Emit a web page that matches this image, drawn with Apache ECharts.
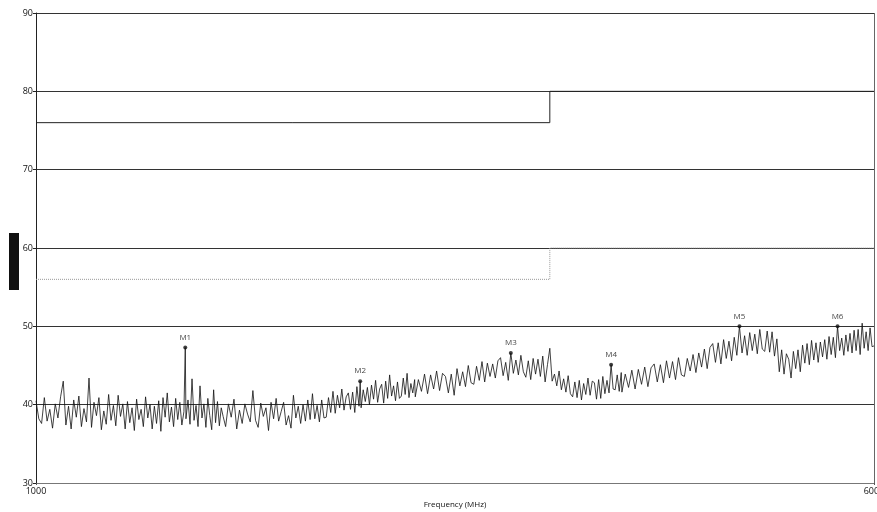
<!DOCTYPE html>
<html><head><meta charset="utf-8">
<script src="https://cdn.jsdelivr.net/npm/echarts@6/dist/echarts.min.js"></script>
<style>html,body{margin:0;padding:0;background:#fff}#c{width:877px;height:512px}</style>
</head><body><div id="c"></div>
<script>
const freqs = [
1000,1006,1012,1018,1024,1030,1036,1042,1048,1054,
1060,1066,1072,1078,1084,1090,1096,1102,1108,1114,
1120,1126,1132,1138,1144,1150,1156,1162,1168,1174,
1180,1186,1192,1198,1204,1210,1216,1222,1228,1234,
1240,1246,1252,1258,1264,1270,1276,1282,1288,1294,
1300,1306,1312,1318,1324,1330,1336,1342,1348,1354,
1360,1366,1372,1376,
1378,1384,1390,1396,1402,1408,1414,1420,1426,1432,
1438,1444,1450,1456,1462,1468,1474,1480,1486,1492,
1500,1509,1518,1527,1536,1545,1554,1563,1572,1581,
1590,1599,1608,1617,1626,1635,1644,1653,1662,1671,
1680,1689,1698,1707,1716,1725,1734,1743,1752,1761,
1770,1779,1788,1797,1806,1815,1824,1833,1842,1851,
1860,1869,1878,1887,1896,1905,1914,1923,1932,1941,
1950,1959,1968,1977,1986,1995,2000,
2004,2013,2022,2031,2040,2049,2058,2067,2076,2085,
2094,2103,2112,2121,2130,2139,2148,2157,2166,2175,
2184,2193,2202,2211,2220,2229,2238,2247,
2250,2265,2280,2295,2310,2325,2340,2355,2370,2385,
2400,2415,2430,2445,2460,2475,2490,2505,2520,2535,
2550,2565,2580,2595,2610,2625,2640,2655,2670,2685,
2700,2715,2730,2745,2760,2775,2790,2805,2820,2835,
2850,2865,2880,2895,2910,2925,2940,2955,2970,2985,
3000,3015,3030,3045,3060,3075,3090,3105,3120,3135,
3150,3165,3180,3195,3210,3225,3240,3255,3270,3285,
3300,3315,3330,3345,3360,3375,3390,3405,3420,3435,
3450,3465,3480,3495,
3500,3525,3550,3575,3600,3625,3650,3675,3700,3725,
3750,3775,3800,3825,3850,3875,3900,3925,3950,3975,
4000,4025,4050,4075,4100,4125,4150,4175,4200,4225,
4250,4275,4300,4325,4350,4375,4400,4425,4450,4475,
4500,4525,4550,4575,4600,4625,4650,4675,4700,4725,
4750,4775,4800,4825,4850,4875,4900,4925,4950,4975,
5000,5025,5050,5075,5100,5125,5150,5175,5200,5225,
5250,5275,5300,5325,5350,5375,5400,5425,5450,5475,
5500,5525,5550,5575,5600,5625,5650,5675,5700,5725,
5750,5775,5800,5825,5850,5875,5900,5925,5950,5975,
6000];
const levels = [
40.5,38.2,37.6,40.9,37.9,39.4,37.0,40.1,38.3,41.0,
43.0,37.4,39.8,36.9,40.6,38.4,41.1,37.2,39.5,37.8,
43.4,37.1,40.3,38.6,40.9,36.8,39.2,37.5,41.3,38.0,
39.9,37.3,41.2,38.5,40.1,36.9,40.4,37.7,39.6,36.7,
40.7,38.1,39.4,37.2,41.0,38.3,40.0,36.9,39.8,37.6,
40.5,36.6,40.9,38.4,41.5,37.8,39.7,37.2,40.8,38.1,
40.3,37.4,39.1,47.3,
38.2,40.6,37.5,43.3,38.0,39.9,37.2,42.4,38.3,40.1,
37.1,40.8,38.6,36.8,41.9,37.7,40.4,37.3,39.6,38.5,
37.2,40.1,38.4,40.7,36.9,39.3,37.6,40.1,38.8,37.8,
41.8,38.0,37.1,40.2,38.5,39.6,36.7,40.3,38.2,40.8,
37.9,39.1,40.3,37.4,38.6,37.0,41.2,38.3,39.8,37.6,
40.0,37.9,40.6,38.1,41.4,38.2,39.9,37.8,40.6,38.3,
38.4,40.9,39.0,41.7,38.9,41.2,39.6,42.0,39.3,41.0,
41.5,39.4,41.6,39.0,42.3,39.8,43.0,
39.6,41.9,40.4,42.2,40.0,42.5,40.7,43.1,40.3,42.0,
42.6,40.2,43.0,40.8,43.8,41.1,42.4,40.5,42.9,40.8,
41.1,43.4,41.3,44.0,40.9,42.7,41.5,43.2,
41.0,43.2,41.7,43.9,41.4,43.8,42.0,44.3,41.8,44.0,
43.6,41.5,43.9,41.2,44.6,42.4,44.2,42.3,45.0,42.8,
42.6,44.9,43.1,45.5,42.9,45.3,43.6,45.2,43.4,45.6,
46.0,43.7,45.4,43.1,46.6,44.0,45.7,43.8,46.3,44.2,
43.5,45.6,43.2,45.9,43.9,45.8,43.6,46.2,42.9,45.1,
47.2,43.0,43.9,42.4,44.3,41.9,43.3,41.6,43.7,41.4,
41.0,42.9,40.9,43.1,40.6,42.7,41.3,43.4,41.2,43.0,
42.8,40.7,43.2,40.8,43.6,41.4,43.1,41.5,45.1,42.0,
41.9,43.8,41.7,44.1,
41.6,43.9,42.2,44.4,42.0,44.5,42.6,44.8,42.3,44.7,
45.2,42.9,45.1,42.8,45.6,43.4,45.5,43.2,46.0,43.8,
43.6,45.9,44.3,46.4,44.1,46.6,44.8,47.1,44.6,47.3,
47.8,45.4,47.9,45.2,48.3,45.9,48.1,45.6,48.6,46.3,
50.0,46.6,48.8,46.3,49.2,46.9,49.0,46.5,49.6,47.1,
46.8,49.4,46.7,49.3,46.2,48.4,44.2,47.0,43.9,46.5,
45.8,43.4,46.8,44.6,47.0,44.2,47.6,45.3,47.8,45.1,
48.2,45.7,47.9,45.4,48.0,46.1,48.3,45.8,48.7,46.4,
48.6,46.0,50.0,46.9,48.5,46.3,48.9,46.8,49.1,46.6,
49.5,46.9,49.6,46.4,50.4,47.2,49.3,46.9,49.8,47.4,
47.5];
// Limit lines
const peakLimitF = [1000, 3000, 3000, 6000];
const peakLimitV = [76, 76, 80, 80];
const avgLimitF = [1000, 3000, 3000, 6000];
const avgLimitV = [56, 56, 60, 60];
// Markers
const markerNames = ['M1','M2','M3','M4','M5','M6'];
const markerF = [1376, 2000, 2760, 3420, 4500, 5550];
const markerV = [47.3, 43.0, 46.6, 45.1, 50.0, 50.0];
// Axis
const yTicks = [30, 40, 50, 60, 70, 80, 90];

const zip = (a, b) => a.map((v, i) => [v, b[i]]);
const chart = echarts.init(document.getElementById('c'));
const font = 'Open Sans, DejaVu Sans, sans-serif';
chart.setOption({
  animation: false,
  backgroundColor: '#fff',
  grid: { left: 36, right: 3, top: 13, bottom: 29, containLabel: false, outerBoundsMode: 'none' },
  xAxis: {
    type: 'log', logBase: 10, min: 1000, max: 6000,
    name: 'Frequency (MHz)', nameLocation: 'middle', nameGap: 17,
    nameTextStyle: { fontSize: 8, color: '#111', fontFamily: font },
    axisLine: { show: true, lineStyle: { color: '#777', width: 1 } },
    axisTick: { show: true, length: 2, lineStyle: { color: '#555' } },
    minorTick: { show: false },
    splitLine: { show: false },
    axisLabel: { fontSize: 9, color: '#111', fontFamily: font, margin: 4, showMinLabel: true, showMaxLabel: true,
      formatter: v => (Math.abs(v - 1000) < 1 || Math.abs(v - 6000) < 1) ? String(Math.round(v)) : '' }
  },
  yAxis: {
    type: 'value', min: yTicks[0], max: yTicks[yTicks.length - 1], interval: 10,
    axisLine: { show: true, lineStyle: { color: '#222', width: 1 } },
    axisTick: { show: true, length: 3, lineStyle: { color: '#222' } },
    splitLine: { show: true, lineStyle: { color: '#333', width: 1 } },
    axisLabel: { fontSize: 9, color: '#111', fontFamily: font, margin: 3 }
  },
  graphic: [{ type: 'rect', left: 9, top: 233, shape: { width: 10, height: 57 }, style: { fill: '#111' } }],
  series: [
    { type: 'line', data: zip(peakLimitF, peakLimitV), symbol: 'none', lineStyle: { color: '#222', width: 1 }, z: 3,
      markLine: { silent: true, symbol: 'none', label: { show: false }, lineStyle: { color: '#666', type: 'solid', width: 1 }, data: [{ xAxis: 6000 }] } },
    { type: 'line', data: zip(avgLimitF, avgLimitV), symbol: 'none', lineStyle: { color: '#999', width: 1, type: 'dotted' }, z: 3 },
    { type: 'line', data: zip(freqs, levels), symbol: 'none', lineStyle: { color: '#111', width: 0.8 }, z: 4 },
    { type: 'scatter', data: zip(markerF, markerV).map((d, i) => ({ value: d, name: markerNames[i] })),
      symbol: 'circle', symbolSize: 4, itemStyle: { color: '#111' }, z: 5,
      label: { show: true, position: 'top', distance: 4, formatter: p => p.name, fontSize: 8, color: '#111', fontFamily: font } }
  ]
});
</script></body></html>
